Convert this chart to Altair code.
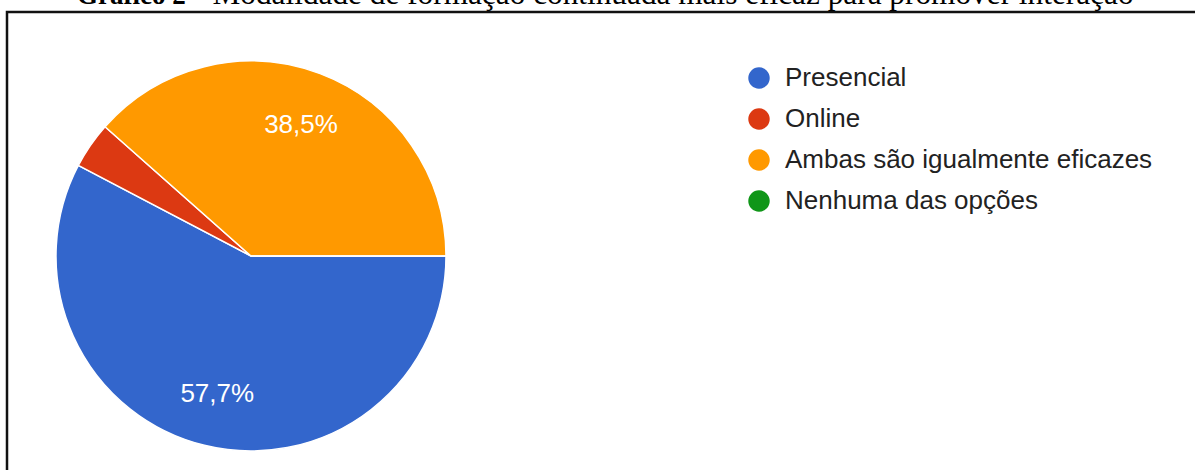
import math
import altair as alt
import pandas as pd

categories = ["Presencial", "Online", "Ambas são igualmente eficazes", "Nenhuma das opções"]
counts = [15, 1, 10, 0]
colors = ["#3366cc", "#dc3912", "#ff9900", "#109618"]
title_bold = "Gráfico 2"
title_rest = "– Modalidade de formação continuada mais eficaz para promover interação"

df = pd.DataFrame({"cat": categories, "n": counts, "order": list(range(len(categories)))})
title_df = pd.DataFrame({"bold": [title_bold], "rest": [title_rest]})
frame_df = pd.DataFrame({"k": [0]})

color_scale = alt.Scale(domain=categories, range=colors)
theta_scale = alt.Scale(range=[math.pi / 2, math.pi / 2 + 2 * math.pi])
CX, CY, R = 251, 256, 195

base = alt.Chart(df)

pie = base.mark_arc(outerRadius=R, stroke="white", strokeWidth=1.5).encode(
    theta=alt.Theta("n:Q", stack=True, scale=theta_scale),
    color=alt.Color("cat:N", scale=color_scale, legend=None),
    order=alt.Order("order:Q"),
    x=alt.value(CX),
    y=alt.value(CY),
)

labels = base.transform_joinaggregate(total="sum(n)").transform_calculate(
    pct="datum.n / datum.total * 100",
    label="datum.pct >= 5 ? replace(format(datum.pct, '.1f'), '.', ',') + '%' : ''",
).mark_text(radius=141, fontSize=26, color="white", font="Liberation Sans").encode(
    theta=alt.Theta("n:Q", stack=True, scale=theta_scale),
    text="label:N",
    order=alt.Order("order:Q"),
    x=alt.value(CX),
    y=alt.value(CY + 1),
)

leg_y = alt.Y("cat:N", scale=alt.Scale(domain=categories, range=[78, 201], padding=0), axis=None)

leg_sym = base.mark_point(filled=True, size=460, shape="circle", opacity=1).encode(
    x=alt.value(759),
    y=leg_y,
    color=alt.Color("cat:N", scale=color_scale, legend=None),
)

leg_txt = base.mark_text(align="left", baseline="middle", fontSize=26, color="#222222",
                         font="Liberation Sans").encode(
    x=alt.value(785),
    y=leg_y,
    text="cat:N",
)

frame = alt.Chart(frame_df).mark_rect(fillOpacity=0, stroke="#111111", strokeWidth=2.5).encode(
    x=alt.value(7), x2=alt.value(1210), y=alt.value(12), y2=alt.value(490)
)

t_bold = alt.Chart(title_df).mark_text(align="left", baseline="alphabetic", fontSize=27,
                                       fontWeight="bold", font="Liberation Serif",
                                       color="#000000").encode(
    x=alt.value(77), y=alt.value(4), text="bold:N"
)
t_rest = alt.Chart(title_df).mark_text(align="left", baseline="alphabetic", fontSize=31.3,
                                       font="Liberation Serif", color="#000000").encode(
    x=alt.value(189), y=alt.value(4), text="rest:N"
)

chart = alt.layer(frame, pie, labels, leg_sym, leg_txt, t_bold, t_rest).properties(
    width=1195, height=470, padding=0, autosize=alt.AutoSizeParams(type="none"),
    background="white",
).configure_view(stroke=None)

chart.save("out.html", embed_options={"renderer": "svg", "actions": False})
